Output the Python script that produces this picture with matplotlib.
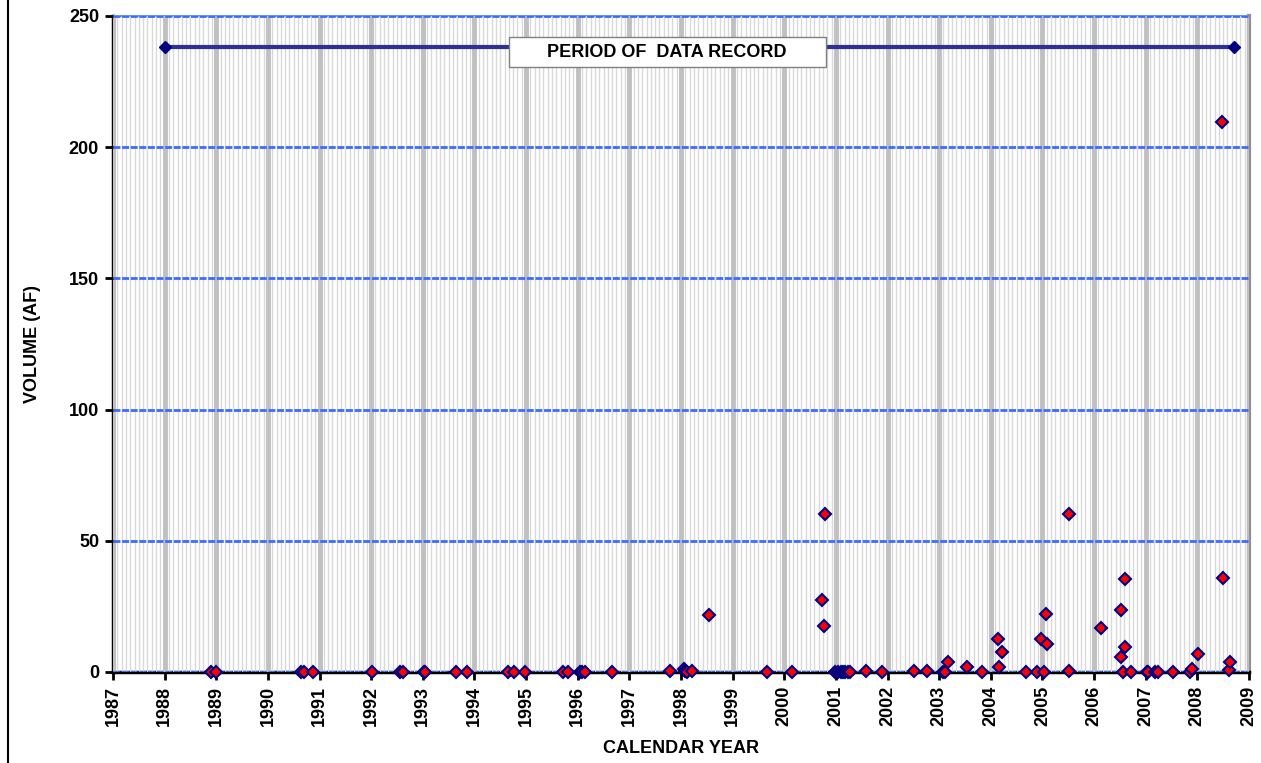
import matplotlib
matplotlib.use('Agg')
import matplotlib.pyplot as plt
from matplotlib.patches import Rectangle
from matplotlib.lines import Line2D
import numpy as np

plt.rcParams['font.family'] = ['Liberation Sans', 'DejaVu Sans']
plt.rcParams['font.weight'] = 'bold'

# DATA ------------------------------------------------------------------------
# decimal year of each measurement and its volume (AF)
obs_year = [1988.90, 1988.99, 1990.64, 1990.69, 1990.87, 1992.02, 1992.56, 1992.61,
            1993.02, 1993.04, 1993.64, 1993.86, 1994.64, 1994.77, 1994.98, 1995.71,
            1995.82, 1996.05, 1996.09, 1996.14, 1996.67, 1997.79, 1998.05, 1998.08,
            1998.12, 1998.22, 1998.55, 1999.66, 2000.15, 2000.74, 2000.77, 2000.79,
            2000.99, 2001.04, 2001.09, 2001.13, 2001.18, 2001.23, 2001.27, 2001.58,
            2001.89, 2002.52, 2002.77, 2003.08, 2003.11, 2003.17, 2003.54, 2003.82,
            2004.14, 2004.16, 2004.21, 2004.68, 2004.89, 2004.97, 2005.03, 2005.07,
            2005.09, 2005.52, 2005.52, 2006.14, 2006.52, 2006.53, 2006.56, 2006.59,
            2006.60, 2006.72, 2007.02, 2007.04, 2007.18, 2007.23, 2007.52, 2007.86,
            2007.89, 2008.02, 2008.48, 2008.50, 2008.61, 2008.64]
obs_volume = [0.0, 0.0, 0.0, 0.0, 0.0, 0.0, 0.0, 0.0,
              0.0, 0.0, 0.0, 0.0, 0.0, 0.0, 0.0, 0.0,
              0.0, 0.0, 0.0, 0.0, 0.0, 0.3, 1.0, 0.2,
              0.0, 0.3, 21.7, 0.0, 0.0, 27.3, 17.7, 60.2,
              0.0, 0.0, 0.0, 0.0, 0.0, 0.0, 0.0, 0.2,
              0.0, 0.2, 0.2, 0.0, 0.0, 3.9, 1.9, 0.0,
              12.7, 1.8, 7.5, 0.0, 0.0, 12.7, 0.0, 22.1,
              10.8, 60.2, 0.3, 16.9, 23.7, 5.9, 0.0, 35.3,
              9.5, 0.0, 0.0, 0.0, 0.0, 0.0, 0.0, 0.0,
              1.3, 7.0, 209.6, 35.8, 0.9, 3.9]

record_year = [1988.0, 2008.71]
record_level = [238, 238]
record_label = 'PERIOD OF  DATA RECORD'

year_ticks = list(range(1987, 2010))
volume_ticks = [0, 50, 100, 150, 200, 250]
# -----------------------------------------------------------------------------

fig = plt.figure(figsize=(12.61, 7.63), dpi=100)
ax = fig.add_axes([113 / 1261, 1 - 672 / 763, 1136 / 1261, 656 / 763])

# monthly light grid, yearly heavier grid
ax.set_xticks(np.arange(1987, 2009.001, 1 / 12), minor=True)
ax.grid(which='minor', axis='x', color='#d9d9d9', lw=1.0, zorder=0)
ax.grid(which='major', axis='x', color='#c0c0c0', lw=3.5, zorder=1)
ax.grid(which='major', axis='y', color='#3d6bff', lw=2.0, ls=(0, (2.5, 0.6)), zorder=0.5)
ax.tick_params(which='minor', length=0)

ax.plot(record_year, record_level, color='#2e3192', lw=3, zorder=3)
ax.plot(record_year, record_level, ls='none', marker='D', ms=6.5,
        color='#000080', zorder=4)

ax.plot(obs_year, obs_volume, ls='none', marker='D', ms=5.8, mfc='#ff0000',
        mec='#000080', mew=1.5, zorder=5, clip_on=False)

ax.add_patch(Rectangle((0.3486, 0.922), 0.279, 0.046, transform=ax.transAxes,
                       facecolor='white', edgecolor='#808080', lw=1, zorder=6))
ax.text(0.4877, 0.945, record_label, transform=ax.transAxes, ha='center', va='center',
        fontsize=13, fontweight='bold', zorder=7)

ax.set_xlim(1987, 2009)
ax.set_ylim(0, 250)
ax.set_xticks(year_ticks)
ax.set_xticklabels([str(y) for y in year_ticks], rotation=90, fontsize=13,
                   fontweight='bold')
ax.set_yticks(volume_ticks)
ax.set_yticklabels([str(v) for v in volume_ticks], fontsize=13, fontweight='bold')
ax.tick_params(axis='both', which='major', direction='out', length=6, width=2,
               color='black', pad=4)

for s in ['left', 'bottom']:
    ax.spines[s].set_linewidth(2.5)
    ax.spines[s].set_color('black')
ax.spines['top'].set_color('#6f8fdf')
ax.spines['top'].set_linewidth(1.5)
ax.spines['right'].set_color('#909090')
ax.spines['right'].set_linewidth(3)
ax.set_axisbelow(False)
for s in ax.spines.values():
    s.set_zorder(2)

ax.set_xlabel('CALENDAR YEAR', fontsize=13, fontweight='bold', labelpad=10)
ax.set_ylabel('VOLUME (AF)', fontsize=13, fontweight='bold', labelpad=20)

# left figure border
fig.add_artist(Line2D([8 / 1261, 8 / 1261], [0, 1], color='black', lw=1.5,
                      transform=fig.transFigure))

fig.savefig('out.png', dpi=100)
